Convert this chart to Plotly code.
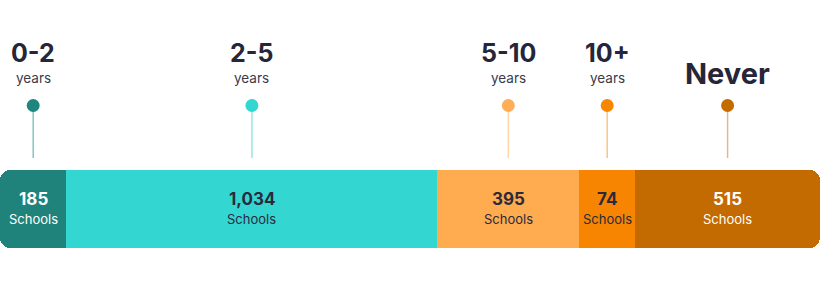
import plotly.graph_objects as go

categories = ["0-2", "2-5", "5-10", "10+", "Never"]
sublabels = ["years", "years", "years", "years", ""]
schools = [185, 1034, 395, 74, 515]
bar_colors = ["#1f827b", "#33d6d1", "#ffab4f", "#f78502", "#c36a00"]
dot_colors = ["#1f867e", "#33d6d1", "#ffae55", "#f78700", "#c46b00"]
line_colors = ["#86c6c1", "#95e8e5", "#ffd5a5", "#fbc285", "#e4b788"]
text_colors = ["#ffffff", "#2a2a3c", "#2a2a3c", "#2a2a3c", "#ffffff"]

W, H = 820, 287
FONT = "Inter"
DARK = "#262638"

# display widths: proportional with a minimum visible share
total = sum(schools)
min_share = 56 / W
small = [v / total < min_share for v in schools]
k = (1 - min_share * sum(small)) / sum(v for v, s in zip(schools, small) if not s)
disp = [min_share if s else v * k for v, s in zip(schools, small)]
starts = [sum(disp[:i]) for i in range(len(disp))]
centers = [s + d / 2 for s, d in zip(starts, disp)]

BAR_Y, BAR_H = 208.8, 77.7

fig = go.Figure()
n = len(schools)


def add_bar(base, length, color, cr, label, value):
    fig.add_trace(go.Bar(
        x=[length], y=[BAR_Y], base=[base], orientation="h", width=BAR_H,
        marker=dict(color=color, line=dict(width=0), cornerradius=cr),
        showlegend=False,
        hovertext=[f"{label}: {value:,} Schools"], hoverinfo="text",
    ))


for i in range(n):
    if i in (0, n - 1):
        # rounded segment, then square half covering the inner side
        add_bar(starts[i], disp[i], bar_colors[i], 10, categories[i], schools[i])
        if i == 0:
            add_bar(centers[i], disp[i] / 2, bar_colors[i], 0, categories[i], schools[i])
        else:
            add_bar(starts[i], disp[i] / 2, bar_colors[i], 0, categories[i], schools[i])
    else:
        add_bar(starts[i], disp[i], bar_colors[i], 0, categories[i], schools[i])

    # pin line
    fig.add_trace(go.Scatter(
        x=[centers[i], centers[i]], y=[110, 158], mode="lines",
        line=dict(color=line_colors[i], width=1.5), showlegend=False, hoverinfo="skip",
    ))
    # pin dot
    fig.add_trace(go.Scatter(
        x=[centers[i]], y=[105.5], mode="markers",
        marker=dict(color=dot_colors[i], size=13, line=dict(width=0)),
        showlegend=False, hoverinfo="skip",
    ))
    # labels above
    if sublabels[i]:
        fig.add_annotation(x=centers[i], y=53, text=f"<b>{categories[i]}</b>", showarrow=False,
                           font=dict(family=FONT, size=25, color=DARK), xanchor="center", yanchor="middle")
        fig.add_annotation(x=centers[i], y=78, text=sublabels[i], showarrow=False,
                           font=dict(family=FONT, size=13.5, color="#3a3a4a"), xanchor="center", yanchor="middle")
    else:
        fig.add_annotation(x=centers[i], y=73, text=f"<b>{categories[i]}</b>", showarrow=False,
                           font=dict(family=FONT, size=29, color=DARK), xanchor="center", yanchor="middle")
    # text inside bar
    fig.add_annotation(x=centers[i], y=199, text=f"<b>{schools[i]:,}</b>", showarrow=False,
                       font=dict(family=FONT, size=17, color=text_colors[i]), xanchor="center", yanchor="middle")
    fig.add_annotation(x=centers[i], y=219, text="Schools", showarrow=False,
                       font=dict(family=FONT, size=13, color=text_colors[i]), xanchor="center", yanchor="middle")

fig.update_layout(
    width=W, height=H, margin=dict(l=0, r=0, t=0, b=0),
    paper_bgcolor="white", plot_bgcolor="white",
    barmode="overlay", bargap=0,
    xaxis=dict(range=[0, 1], visible=False, fixedrange=True),
    yaxis=dict(range=[H, 0], visible=False, fixedrange=True),
    font=dict(family=FONT),
)

fig.write_html("out.html")
